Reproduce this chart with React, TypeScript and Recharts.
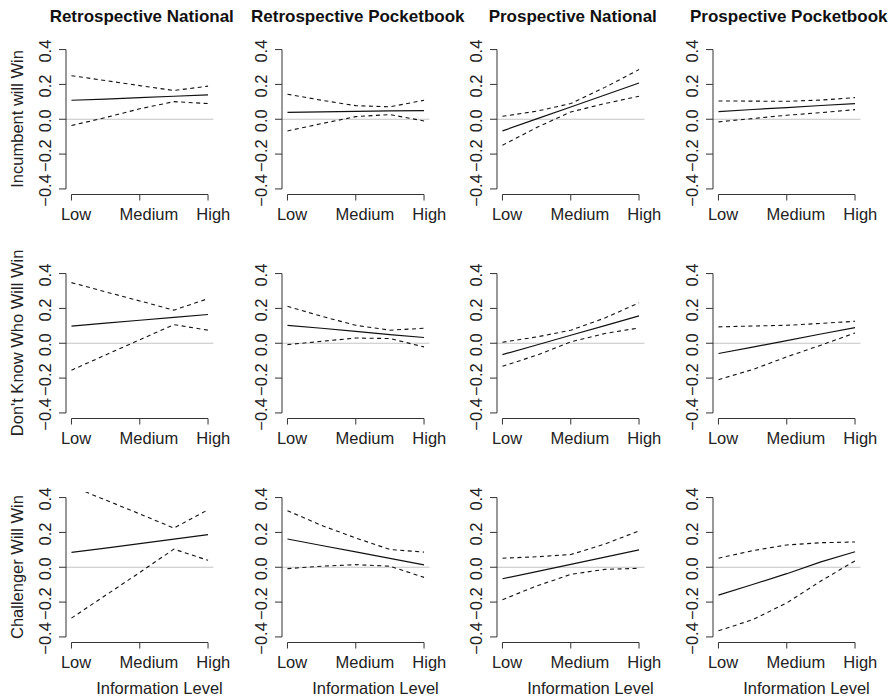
import React from "react";
import { LineChart, Line, XAxis, YAxis, ReferenceLine } from "recharts";

// information level positions (Low .. High)
const INFO_X = [0, 0.25, 0.5, 0.75, 1];
const LEVEL_TICKS = [0, 0.5, 1];
const LEVEL_LABELS = ["Low", "Medium", "High"];
const Y_TICKS = [-0.4, -0.2, 0, 0.2, 0.4];
const Y_TICK_LABELS = ["\u22120.4", "\u22120.2", "0.0", "0.2", "0.4"];

const COLUMN_TITLES = [
  "Retrospective National",
  "Retrospective Pocketbook",
  "Prospective National",
  "Prospective Pocketbook",
];
const ROW_TITLES = ["Incumbent will Win", "Don't Know Who Will Win", "Challenger Will Win"];
const X_TITLE = "Information Level";

// Incumbent will win
const incRNEst = [0.109, 0.116, 0.124, 0.132, 0.14];
const incRNLo = [-0.036, 0.01, 0.06, 0.101, 0.09];
const incRNHi = [0.25, 0.222, 0.193, 0.165, 0.19];
const incRPEst = [0.04, 0.042, 0.045, 0.048, 0.05];
const incRPLo = [-0.067, -0.025, 0.015, 0.027, -0.01];
const incRPHi = [0.144, 0.109, 0.078, 0.071, 0.109];
const incPNEst = [-0.067, 0.002, 0.07, 0.139, 0.208];
const incPNLo = [-0.149, -0.048, 0.042, 0.09, 0.132];
const incPNHi = [0.017, 0.046, 0.09, 0.183, 0.285];
const incPPEst = [0.044, 0.056, 0.067, 0.079, 0.09];
const incPPLo = [-0.015, 0.004, 0.023, 0.038, 0.055];
const incPPHi = [0.105, 0.104, 0.103, 0.11, 0.124];

// Don't know who will win
const dkRNEst = [0.098, 0.115, 0.132, 0.148, 0.165];
const dkRNLo = [-0.155, -0.067, 0.02, 0.107, 0.075];
const dkRNHi = [0.348, 0.295, 0.243, 0.19, 0.256];
const dkRPEst = [0.103, 0.086, 0.068, 0.05, 0.033];
const dkRPLo = [-0.008, 0.011, 0.03, 0.027, -0.021];
const dkRPHi = [0.212, 0.155, 0.103, 0.075, 0.086];
const dkPNEst = [-0.065, -0.01, 0.046, 0.101, 0.157];
const dkPNLo = [-0.132, -0.069, 0.008, 0.056, 0.088];
const dkPNHi = [0.006, 0.036, 0.075, 0.145, 0.232];
const dkPPEst = [-0.059, -0.022, 0.015, 0.053, 0.09];
const dkPPLo = [-0.209, -0.151, -0.078, -0.011, 0.059];
const dkPPHi = [0.094, 0.099, 0.103, 0.114, 0.126];

// Challenger will win
const chRNEst = [0.085, 0.11, 0.136, 0.161, 0.187];
const chRNLo = [-0.292, -0.161, -0.03, 0.104, 0.04];
const chRNHi = [0.465, 0.386, 0.306, 0.225, 0.33];
const chRPEst = [0.162, 0.125, 0.088, 0.051, 0.014];
const chRPLo = [-0.008, 0.006, 0.015, 0.006, -0.058];
const chRPHi = [0.325, 0.24, 0.168, 0.102, 0.087];
const chPNEst = [-0.066, -0.025, 0.017, 0.058, 0.1];
const chPNLo = [-0.186, -0.108, -0.041, -0.012, -0.006];
const chPNHi = [0.052, 0.06, 0.073, 0.133, 0.209];
const chPPEst = [-0.16, -0.099, -0.037, 0.031, 0.089];
const chPPLo = [-0.365, -0.301, -0.205, -0.079, 0.037];
const chPPHi = [0.052, 0.095, 0.128, 0.141, 0.145];

const GRID = [
  [
    [incRNEst, incRNLo, incRNHi],
    [incRPEst, incRPLo, incRPHi],
    [incPNEst, incPNLo, incPNHi],
    [incPPEst, incPPLo, incPPHi],
  ],
  [
    [dkRNEst, dkRNLo, dkRNHi],
    [dkRPEst, dkRPLo, dkRPHi],
    [dkPNEst, dkPNLo, dkPNHi],
    [dkPPEst, dkPPLo, dkPPHi],
  ],
  [
    [chRNEst, chRNLo, chRNHi],
    [chRPEst, chRPLo, chRPHi],
    [chPNEst, chPNLo, chPNHi],
    [chPPEst, chPPLo, chPPHi],
  ],
];

const FONT = '"Liberation Sans", Arial, Helvetica, sans-serif';
const AXIS = "#333";
const LINE = "#111";
const ZERO = "#c4c4c4";

// layout (px)
const COL_X = [66, 282, 497, 713];
const ROW_Y = [43.7, 267.7, 491.8];
const PLOT_W = 147.5;
const PLOT_H = 150.5;
const YW = 60;
const XH = 40;
const TM = 14; // room above plot for the top tick label
const RM = 30; // room right of plot for "High"
// the original's labels sit a little right of their ticks
const LEVEL_DX = [4.6, 9.2, 5.3];

const XTick = (props: any) => {
  const i = LEVEL_TICKS.indexOf(props.payload.value);
  return (
    <text
      x={props.x + LEVEL_DX[i]}
      y={TM + PLOT_H + 25}
      textAnchor="middle"
      fontSize={16.5}
      fontFamily={FONT}
      fill="#222"
    >
      {LEVEL_LABELS[i]}
    </text>
  );
};

const YTick = (props: any) => {
  const i = Y_TICKS.indexOf(props.payload.value);
  const bx = YW - 14.8;
  const cy = props.y + 1.5;
  return (
    <text
      x={bx}
      y={cy}
      transform={`rotate(-90 ${bx} ${cy})`}
      textAnchor="middle"
      fontSize={16.5}
      fontFamily={FONT}
      fill="#222"
    >
      {Y_TICK_LABELS[i]}
    </text>
  );
};

const Panel: React.FC<{ series: number[][]; left: number; top: number }> = ({ series, left, top }) => {
  const [est, lo, hi] = series;
  const data = INFO_X.map((x, i) => ({ x, est: est[i], lo: lo[i], hi: hi[i] }));
  return (
    <div style={{ position: "absolute", left: left - YW, top: top - TM }}>
      <LineChart
        width={YW + PLOT_W + RM}
        height={TM + PLOT_H + XH}
        data={data}
        margin={{ top: TM, right: RM, bottom: 0, left: 0 }}
      >
        <XAxis
          type="number"
          dataKey="x"
          domain={[-0.04, 1.04]}
          ticks={LEVEL_TICKS}
          interval={0}
          allowDataOverflow
          axisLine={false}
          tickSize={6}
          tickLine={{ stroke: AXIS, strokeWidth: 1 }}
          tick={XTick}
          height={XH}
        />
        <YAxis
          type="number"
          domain={[-0.432, 0.432]}
          ticks={Y_TICKS}
          interval={0}
          allowDataOverflow
          axisLine={false}
          tickSize={7}
          tickLine={{ stroke: AXIS, strokeWidth: 1 }}
          tick={YTick}
          width={YW}
        />
        <ReferenceLine y={0} stroke={ZERO} strokeWidth={1.2} />
        {/* R-style detached axis lines */}
        <ReferenceLine
          segment={[
            { x: -0.04, y: -0.4 },
            { x: -0.04, y: 0.4 },
          ]}
          stroke={AXIS}
          strokeWidth={1}
          ifOverflow="visible"
        />
        <ReferenceLine
          segment={[
            { x: 0, y: -0.432 },
            { x: 1, y: -0.432 },
          ]}
          stroke={AXIS}
          strokeWidth={1}
          ifOverflow="visible"
        />
        <Line dataKey="hi" stroke={LINE} strokeWidth={1.1} strokeDasharray="4 3.5" dot={false} isAnimationActive={false} />
        <Line dataKey="lo" stroke={LINE} strokeWidth={1.1} strokeDasharray="4 3.5" dot={false} isAnimationActive={false} />
        <Line dataKey="est" stroke={LINE} strokeWidth={1.2} dot={false} isAnimationActive={false} />
      </LineChart>
    </div>
  );
};

export default function App() {
  return (
    <div style={{ position: "absolute", left: 0, top: 0, width: 893, height: 700, background: "#fff" }}>
      {GRID.map((row, r) =>
        row.map((series, c) => <Panel key={`${r}-${c}`} series={series} left={COL_X[c]} top={ROW_Y[r]} />)
      )}
      <svg
        width={893}
        height={700}
        style={{ position: "absolute", left: 0, top: 0, pointerEvents: "none" }}
        fontFamily={FONT}
      >
        {COLUMN_TITLES.map((t, c) => (
          <text key={t} x={COL_X[c] + PLOT_W / 2 + 2} y={22} textAnchor="middle" fontSize={17} fontWeight="bold" fill="#111">
            {t}
          </text>
        ))}
        {ROW_TITLES.map((t, r) => {
          const y = ROW_Y[r] + PLOT_H / 2;
          return (
            <text key={t} x={23.5} y={y} transform={`rotate(-90 23.5 ${y})`} textAnchor="middle" fontSize={16.5} fill="#222">
              {t}
            </text>
          );
        })}
        {COL_X.map((x, c) => (
          <text key={c} x={x + 93.5} y={694} textAnchor="middle" fontSize={16.5} fill="#222">
            {X_TITLE}
          </text>
        ))}
      </svg>
    </div>
  );
}
